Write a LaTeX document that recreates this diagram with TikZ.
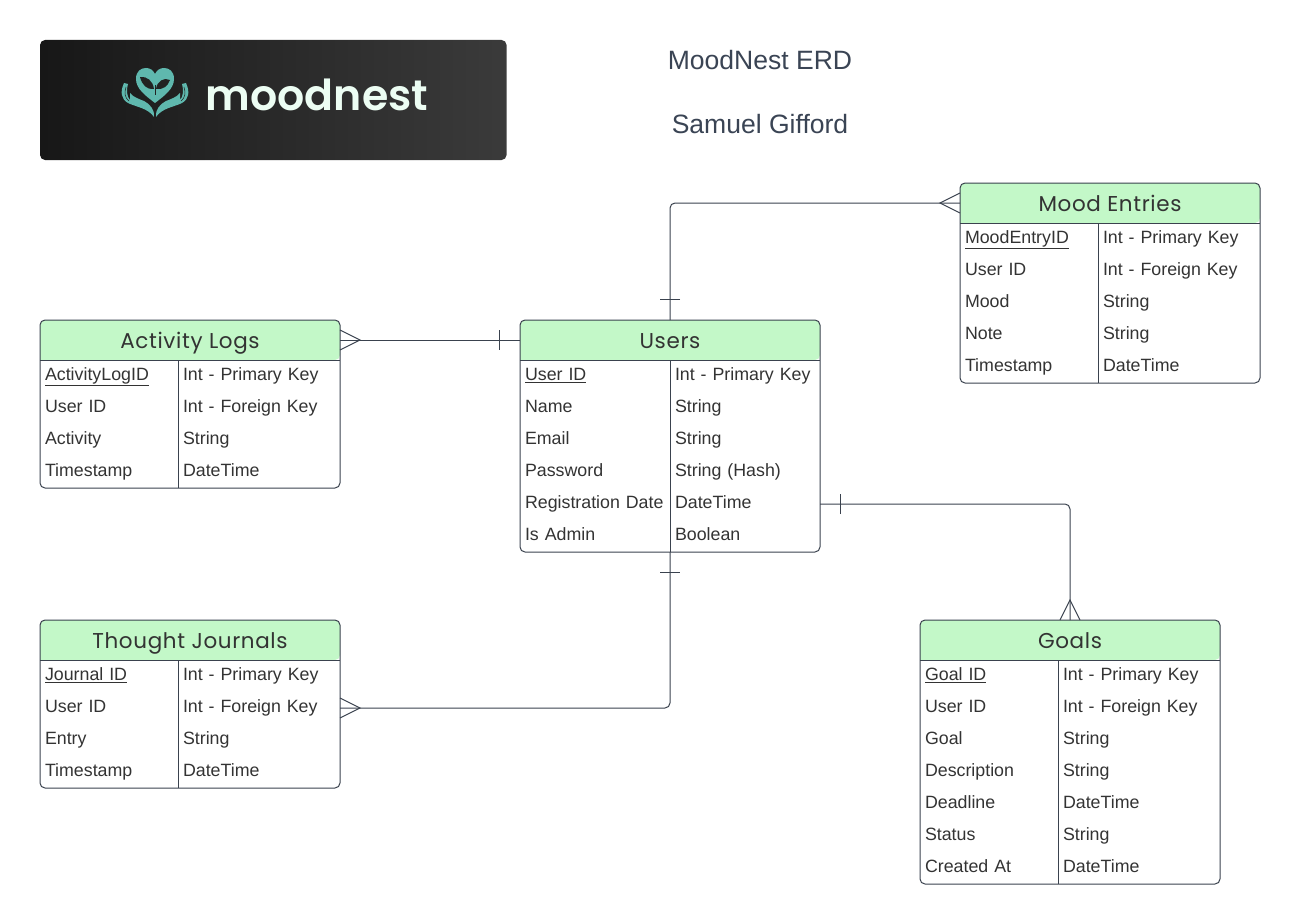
\documentclass[tikz,border=0pt]{standalone}
\usepackage{fontspec}
\setmainfont{Liberation Sans}
\newfontfamily\headfont[LetterSpace=3]{Poppins}
\newfontfamily\logofont{Poppins SemiBold}
\usetikzlibrary{arrows.meta, positioning, calc, backgrounds, decorations.markings}

\definecolor{headgreen}{HTML}{C3F8C8}
\definecolor{erink}{HTML}{3A424E}
\definecolor{cellink}{HTML}{333333}
\definecolor{titleink}{HTML}{3A4454}
\definecolor{logoteal}{HTML}{5FB8AE}
\definecolor{logodark}{HTML}{222222}
\definecolor{logowhite}{HTML}{ECFDF3}

\tikzset{
    headcell/.style={minimum width=225pt, inner sep=0pt, outer sep=0pt, text height=21pt, text depth=9pt,
        text=cellink, font=\headfont\fontsize{16.1}{18}\selectfont},
    rowcell/.style={inner xsep=3.75pt, inner ysep=0pt, outer sep=0pt, align=left,
        text height=15pt, text depth=9pt, text=cellink, font=\fontsize{13.35}{16}\selectfont},
    frameline/.style={draw=erink, line width=.75pt},
    erline/.style={draw=erink, line width=.75pt, rounded corners=3.75pt},
    one at start/.style={postaction={decorate, decoration={markings,
        mark=at position 15.4pt with {\draw[erink, line width=.75pt, sharp corners] (0,-7.5pt) -- (0,7.5pt);}}}},
    many at end/.style={postaction={decorate, decoration={markings,
        mark=at position 1 with {\draw[erink, line width=.75pt, sharp corners] (0,-7.5pt) -- (-15pt,0pt) -- (0,7.5pt);}}}}
}

% name, title, centre of the title bar, width of the key column (px), rows
\newcommand{\erdtable}[5]{
    \node[headcell] (#1) at (#3) {#2};
    \foreach \i/\k/\t in {#5} {
        \node[rowcell, anchor=north west, text width={#4*.75pt-7.5pt}] (#1k\i)
            at ($(#1.south west)+(0,{(\i-1)*32})$) {\k};
        \node[rowcell, right=0pt of #1k\i, text width={(300-#4)*.75pt-7.5pt}] (#1t\i) {\t};
        \xdef\lastrow{\i}
    }
    \begin{scope}[on background layer]
        \fill[headgreen, rounded corners=3.75pt] (#1.south west) -- (#1.north west)
            -- (#1.north east) -- (#1.south east) [sharp corners] -- cycle;
    \end{scope}
    \draw[frameline, rounded corners=3.75pt] (#1.north west) rectangle (#1t\lastrow.south east);
    \draw[frameline] (#1.south west) -- (#1.south east);
    \draw[frameline] (#1k1.north east) -- (#1k\lastrow.south east);
}

\begin{document}
\begin{tikzpicture}[x=.75pt, y=-.75pt]
    \useasboundingbox (0,0) rectangle (1300,924);

    % Logo banner
    \node[minimum width=349.9pt, minimum height=90pt, inner sep=0pt, rounded corners=3.75pt,
        left color=black!91, right color=black!77] (banner) at (273.3,100) {};
    \node[text=logowhite, inner sep=0pt, anchor=base, font=\logofont\fontsize{32}{40}\selectfont] (bannername) at (317,111) {moodnest};

    % Heart with leaves and the two hands
    \fill[logoteal] (155,103) .. controls (146,96) and (136,89) .. (136,79) .. controls (136,71) and (141,68) .. (146,68)
        .. controls (150,68) and (153,70) .. (155,74) .. controls (157,70) and (160,68) .. (164,68)
        .. controls (169,68) and (174,71) .. (174,79) .. controls (174,89) and (164,96) .. (155,103) -- cycle;
    \fill[logodark] (140,77) .. controls (147,76) and (153,81) .. (154,89) .. controls (147,90) and (142,85) .. (140,77) -- cycle;
    \fill[logodark] (170,80) .. controls (164,77) and (157,81) .. (156,89) .. controls (163,90) and (168,86) .. (170,80) -- cycle;
    \draw[logodark, line width=.6pt] (155,85) -- (155,95);
    \foreach \s/\d in {1/0, -1/310} {
        \begin{scope}[shift={(\d,0)}, xscale=\s]
            \fill[logoteal] (124,83) .. controls (120,92) and (121,99) .. (128,103) .. controls (136,107) and (148,108) .. (154,117)
                .. controls (155,110) and (150,104) .. (144,101) .. controls (139,99) and (133,97) .. (130,93)
                -- (130,100) .. controls (127,97) and (126,90) .. (128,84) -- cycle;
            \draw[logodark, line width=.4pt] (126,87) .. controls (124,93) and (125,98) .. (129,101);
        \end{scope}
    }

    % Title
    \node[text=titleink, font=\fontsize{19.9}{24}\selectfont] (title) at (760,60) {MoodNest ERD};
    \node[text=titleink, font=\fontsize{19.9}{24}\selectfont] (author) at (760,124) {Samuel Gifford};

    % Tables
    \erdtable{users}{Users}{670,340}{150}{1/{\underline{User ID}}/Int - Primary Key, 2/Name/String, 3/Email/String,
        4/Password/String (Hash), 5/Registration Date/DateTime, 6/Is Admin/Boolean}
    \erdtable{mood}{Mood Entries}{1110,203}{138}{1/{\underline{MoodEntryID}}/Int - Primary Key, 2/User ID/Int - Foreign Key,
        3/Mood/String, 4/Note/String, 5/Timestamp/DateTime}
    \erdtable{activity}{Activity Logs}{190,340}{138}{1/{\underline{ActivityLogID}}/Int - Primary Key, 2/User ID/Int - Foreign Key,
        3/Activity/String, 4/Timestamp/DateTime}
    \erdtable{journal}{Thought Journals}{190,640}{138}{1/{\underline{Journal ID}}/Int - Primary Key, 2/User ID/Int - Foreign Key,
        3/Entry/String, 4/Timestamp/DateTime}
    \erdtable{goals}{Goals}{1070,640}{138}{1/{\underline{Goal ID}}/Int - Primary Key, 2/User ID/Int - Foreign Key,
        3/Goal/String, 4/Description/String, 5/Deadline/DateTime, 6/Status/String, 7/Created At/DateTime}

    % Relations
    \draw[erline, one at start, many at end] (users.north) |- (mood.west);
    \draw[erline, one at start, many at end] (users.west) -- (activity.east);
    \draw[erline, one at start, many at end] (usersk6.south east) |- (journalt2.east);
    \draw[erline, one at start, many at end] (userst5.east) -| (goals.north);
\end{tikzpicture}
\end{document}
